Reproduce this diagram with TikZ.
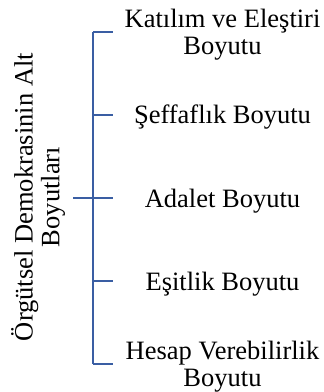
\documentclass[tikz,border=0pt]{standalone}
\usepackage{fontspec}
\setmainfont{Liberation Serif}
\definecolor{lineblue}{RGB}{58,94,163}
\begin{document}
\begin{tikzpicture}[x=1pt,y=-1pt,
  txt/.style={font=\fontsize{26.5}{26.8}\selectfont, align=center, inner sep=0pt, anchor=base},
  br/.style={draw=lineblue, line width=2pt}]
\useasboundingbox (0,0) rectangle (324,392);
% rotated title (base anchor = baseline of its last line)
\node[txt, rotate=90] (title) at (59.5,197) {Örgütsel Demokrasinin Alt\\Boyutları};
% branch texts (base anchor = baseline of last line)
\node[txt] (t1) at (222.5,54.5) {Katılım ve Eleştiri\\Boyutu};
\node[txt] (t2) at (222.5,123) {Şeffaflık Boyutu};
\node[txt] (t3) at (222.5,207.5) {Adalet Boyutu};
\node[txt] (t4) at (222.5,290) {Eşitlik Boyutu};
\node[txt] (t5) at (222.5,386) {Hesap Verebilirlik\\Boyutu};
% bracket coordinates
\coordinate (s0) at (73,198);
\coordinate (s1) at (93,32);
\coordinate (s2) at (93,115);
\coordinate (s3) at (93,198);
\coordinate (s4) at (93,281);
\coordinate (s5) at (93,364);
\coordinate (e1) at (113,32);
\coordinate (e2) at (113,115);
\coordinate (e3) at (113,198);
\coordinate (e4) at (113,281);
\coordinate (e5) at (113,364);
\draw[br] (s1) -- (s5);
\draw[br] (s0) -- (s3);
\foreach \i in {1,...,5} \draw[br] (s\i) -- (e\i);
\end{tikzpicture}
\end{document}
